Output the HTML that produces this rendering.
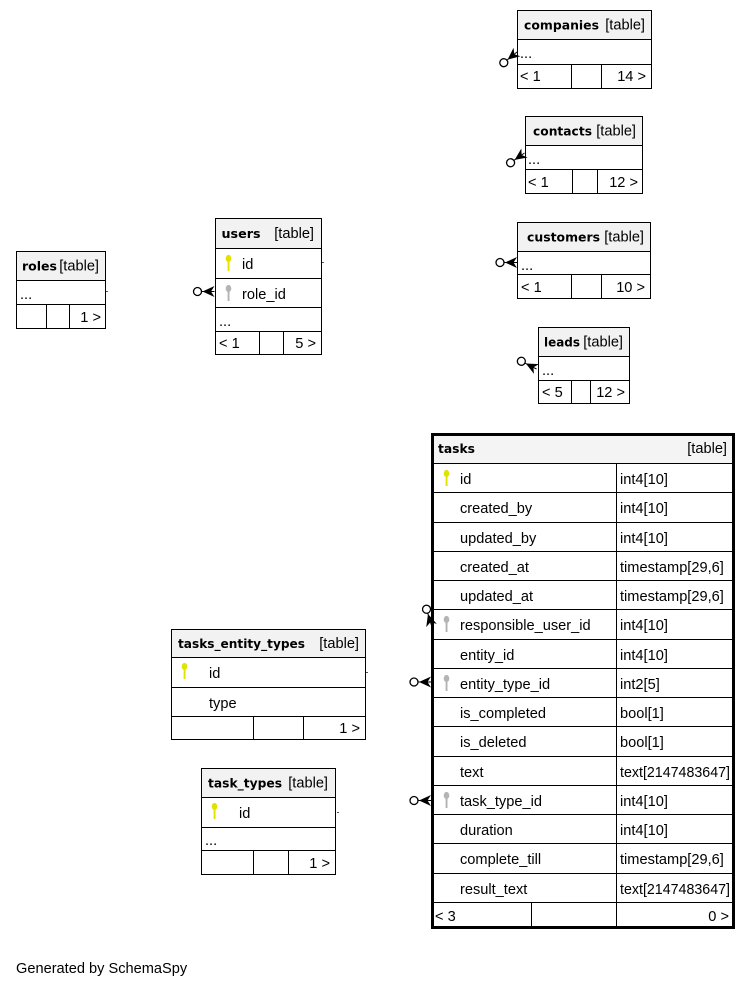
<!DOCTYPE html>
<html><head><meta charset="utf-8"><style>
html,body{margin:0;padding:0;background:#fff;}
svg{display:block;}
.h{font-family:"DejaVu Sans","Liberation Sans",sans-serif;font-weight:bold;font-size:12.5px;fill:#000;}
.t{font-family:"Liberation Sans",Arial,sans-serif;font-size:14.6px;fill:#000;}
.e{text-anchor:end;}
.ln{stroke:#000;stroke-width:1;fill:none;}
</style></head><body>
<svg width="753" height="986" viewBox="0 0 753 986" xmlns="http://www.w3.org/2000/svg">
<rect width="753" height="986" fill="#fff"/>
<defs>
<g id="crow"><polygon points="12,0 0,-5.5 3.5,0 0,5.5" fill="#000"/><line x1="0" y1="0" x2="13" y2="0" stroke="#000"/><circle cx="17" cy="0" r="4" fill="#fff" stroke="#000" stroke-width="1.3"/></g>
<g id="keyY"><ellipse cx="0" cy="3.5" rx="2.8" ry="3.6" fill="#e2e200"/><rect x="-0.9" y="6" width="1.9" height="10" fill="#e2e200"/></g>
<g id="keyG"><ellipse cx="0" cy="3.5" rx="2.8" ry="3.6" fill="#b4b4b4"/><rect x="-0.9" y="6" width="1.9" height="10" fill="#b4b4b4"/></g>
</defs>

<!-- companies -->
<g shape-rendering="crispEdges">
<rect x="517.5" y="10.5" width="134" height="78" fill="#fff" class="ln"/>
<rect x="517.5" y="10.5" width="134" height="29" fill="#f2f2f2" stroke="#000"/>
<path class="ln" d="M517 64.5H651M571.5 64V88M601.5 64V88"/>
</g>
<text class="h" x="524" y="29.5" textLength="75" lengthAdjust="spacingAndGlyphs">companies</text>
<text class="t e" x="645" y="29.5">[table]</text>
<text class="t" x="520" y="58">...</text>
<text class="t" x="520" y="81">&lt; 1</text>
<text class="t e" x="646" y="81">14 &gt;</text>

<!-- contacts -->
<g shape-rendering="crispEdges">
<rect x="525.5" y="116.5" width="117" height="77" fill="#fff" class="ln"/>
<rect x="525.5" y="116.5" width="117" height="29" fill="#f2f2f2" stroke="#000"/>
<path class="ln" d="M525 169.5H643M572.5 169V193M597.5 169V193"/>
</g>
<text class="h" x="533" y="135.5" textLength="59" lengthAdjust="spacingAndGlyphs">contacts</text>
<text class="t e" x="636" y="135.5">[table]</text>
<text class="t" x="528" y="164">...</text>
<text class="t" x="528" y="187">&lt; 1</text>
<text class="t e" x="638" y="187">12 &gt;</text>

<!-- customers -->
<g shape-rendering="crispEdges">
<rect x="517.5" y="222.5" width="133" height="76" fill="#fff" class="ln"/>
<rect x="517.5" y="222.5" width="133" height="29" fill="#f2f2f2" stroke="#000"/>
<path class="ln" d="M517 274.5H651M571.5 274V298M601.5 274V298"/>
</g>
<text class="h" x="527" y="241.5" textLength="73" lengthAdjust="spacingAndGlyphs">customers</text>
<text class="t e" x="644" y="241.5">[table]</text>
<text class="t" x="521" y="270">...</text>
<text class="t" x="521" y="292">&lt; 1</text>
<text class="t e" x="645" y="292">10 &gt;</text>

<!-- leads -->
<g shape-rendering="crispEdges">
<rect x="538.5" y="327.5" width="91" height="76" fill="#fff" class="ln"/>
<rect x="538.5" y="327.5" width="91" height="29" fill="#f2f2f2" stroke="#000"/>
<path class="ln" d="M538 380.5H630M571.5 380V403M590.5 380V403"/>
</g>
<text class="h" x="544" y="346.5" textLength="36" lengthAdjust="spacingAndGlyphs">leads</text>
<text class="t e" x="623" y="346.5">[table]</text>
<text class="t" x="542" y="375">...</text>
<text class="t" x="542" y="397">&lt; 5</text>
<text class="t e" x="625" y="397">12 &gt;</text>

<!-- roles -->
<g shape-rendering="crispEdges">
<rect x="16.5" y="251.5" width="89" height="77" fill="#fff" class="ln"/>
<rect x="16.5" y="251.5" width="89" height="29" fill="#f2f2f2" stroke="#000"/>
<path class="ln" d="M16 304.5H106M46.5 304V328M69.5 304V328"/>
</g>
<text class="h" x="22" y="270.5" textLength="35" lengthAdjust="spacingAndGlyphs">roles</text>
<text class="t e" x="99" y="270.5">[table]</text>
<text class="t" x="20" y="299">...</text>
<text class="t e" x="101" y="322">1 &gt;</text>
<rect x="106" y="291" width="2" height="1" fill="#555"/>

<!-- users -->
<g shape-rendering="crispEdges">
<rect x="215.5" y="218.5" width="106" height="136" fill="#fff" class="ln"/>
<rect x="215.5" y="218.5" width="106" height="30" fill="#f2f2f2" stroke="#000"/>
<path class="ln" d="M215 278.5H322M215 307.5H322M215 331.5H322M259.5 331V354M283.5 331V354"/>
</g>
<text class="h" x="221.5" y="238" textLength="39" lengthAdjust="spacingAndGlyphs">users</text>
<text class="t e" x="314" y="238">[table]</text>
<use href="#keyY" x="228.5" y="255"/>
<text class="t" x="242" y="269">id</text>
<use href="#keyG" x="228.5" y="285"/>
<text class="t" x="242" y="299">role_id</text>
<text class="t" x="219" y="326">...</text>
<text class="t" x="219" y="348">&lt; 1</text>
<text class="t e" x="316" y="348">5 &gt;</text>
<rect x="322" y="262" width="2" height="1" fill="#555"/>

<!-- tasks_entity_types -->
<g shape-rendering="crispEdges">
<rect x="171.5" y="629.5" width="194" height="110" fill="#fff" class="ln"/>
<rect x="171.5" y="629.5" width="194" height="28" fill="#f2f2f2" stroke="#000"/>
<path class="ln" d="M171 687.5H366M171 716.5H366M253.5 716V739M303.5 716V739"/>
</g>
<text class="h" x="178" y="648" textLength="127" lengthAdjust="spacingAndGlyphs">tasks_entity_types</text>
<text class="t e" x="359" y="648">[table]</text>
<use href="#keyY" x="184.5" y="663"/>
<text class="t" x="209" y="678">id</text>
<text class="t" x="209" y="708">type</text>
<text class="t e" x="360" y="733">1 &gt;</text>
<rect x="366" y="672" width="2" height="1" fill="#555"/>

<!-- task_types -->
<g shape-rendering="crispEdges">
<rect x="201.5" y="768.5" width="134" height="106" fill="#fff" class="ln"/>
<rect x="201.5" y="768.5" width="134" height="29" fill="#f2f2f2" stroke="#000"/>
<path class="ln" d="M201 827.5H336M201 850.5H336M253.5 850V874M288.5 850V874"/>
</g>
<text class="h" x="208" y="787.5" textLength="74" lengthAdjust="spacingAndGlyphs">task_types</text>
<text class="t e" x="328" y="787.5">[table]</text>
<use href="#keyY" x="214.5" y="803"/>
<text class="t" x="239" y="818">id</text>
<text class="t" x="205" y="845">...</text>
<text class="t e" x="330" y="868">1 &gt;</text>
<rect x="337" y="812" width="2" height="1" fill="#555"/>

<!-- tasks -->
<g shape-rendering="crispEdges">
<rect x="432.5" y="434.5" width="301" height="493" fill="#fff"/>
<rect x="432.5" y="434.5" width="301" height="28.5" fill="#f4f4f4"/>
<path class="ln" d="M432 463.5H734M432 492.5H734M432 522.5H734M432 551.5H734M432 580.5H734M432 609.5H734M432 639.5H734M432 668.5H734M432 697.5H734M432 726.5H734M432 756.5H734M432 785.5H734M432 814.5H734M432 843.5H734M432 873.5H734M432 902.5H734M616.5 463V928M531.5 902V928"/>
<rect x="432.5" y="434.5" width="301" height="493" fill="none" stroke="#000" stroke-width="3"/>
</g>
<text class="h" x="438" y="453" textLength="37" lengthAdjust="spacingAndGlyphs">tasks</text>
<text class="t e" x="727" y="453">[table]</text>

<use href="#keyY" x="446.5" y="470"/>
<text class="t" x="460" y="484">id</text><text class="t" x="620" y="484">int4[10]</text>
<text class="t" x="460" y="513">created_by</text><text class="t" x="620" y="513">int4[10]</text>
<text class="t" x="460" y="543">updated_by</text><text class="t" x="620" y="543">int4[10]</text>
<text class="t" x="460" y="572">created_at</text><text class="t" x="620" y="572">timestamp[29,6]</text>
<text class="t" x="460" y="601">updated_at</text><text class="t" x="620" y="601">timestamp[29,6]</text>
<use href="#keyG" x="446.5" y="616"/>
<text class="t" x="460" y="630">responsible_user_id</text><text class="t" x="620" y="630">int4[10]</text>
<text class="t" x="460" y="660">entity_id</text><text class="t" x="620" y="660">int4[10]</text>
<use href="#keyG" x="446.5" y="675"/>
<text class="t" x="460" y="689">entity_type_id</text><text class="t" x="620" y="689">int2[5]</text>
<text class="t" x="460" y="718">is_completed</text><text class="t" x="620" y="718">bool[1]</text>
<text class="t" x="460" y="747">is_deleted</text><text class="t" x="620" y="747">bool[1]</text>
<text class="t" x="460" y="777">text</text><text class="t" x="620" y="777" textLength="110" lengthAdjust="spacingAndGlyphs">text[2147483647]</text>
<use href="#keyG" x="446.5" y="792"/>
<text class="t" x="460" y="806">task_type_id</text><text class="t" x="620" y="806">int4[10]</text>
<text class="t" x="460" y="835">duration</text><text class="t" x="620" y="835">int4[10]</text>
<text class="t" x="460" y="864">complete_till</text><text class="t" x="620" y="864">timestamp[29,6]</text>
<text class="t" x="460" y="894">result_text</text><text class="t" x="620" y="894" textLength="110" lengthAdjust="spacingAndGlyphs">text[2147483647]</text>
<text class="t" x="435" y="921">&lt; 3</text>
<text class="t e" x="729" y="921">0 &gt;</text>

<!-- connector ends -->
<use href="#crow" transform="translate(517,52) rotate(141)"/>
<use href="#crow" transform="translate(524.5,153) rotate(145)"/>
<use href="#crow" transform="translate(517,262.5) rotate(180)"/>
<use href="#crow" transform="translate(536.5,369) rotate(207)"/>
<use href="#crow" transform="translate(214.5,291.5) rotate(180)"/>
<use href="#crow" transform="translate(431.5,625.5) rotate(253)"/>
<use href="#crow" transform="translate(431,682) rotate(180)"/>
<use href="#crow" transform="translate(431,800.5) rotate(180)"/>

<text class="t" x="16" y="973">Generated by SchemaSpy</text>
</svg>
</body></html>
